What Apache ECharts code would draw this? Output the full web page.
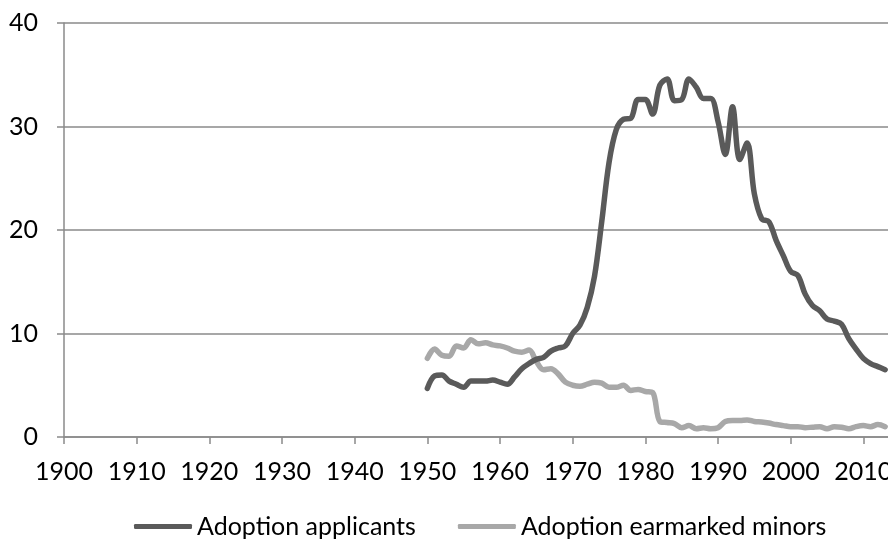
<!DOCTYPE html>
<html>
<head>
<meta charset="utf-8">
<script src="https://cdn.jsdelivr.net/npm/echarts@6/dist/echarts.min.js"></script>
<style>
    html, body { margin: 0; padding: 0; background: #fff; }
    #container { width: 888px; height: 540px; }
</style>
</head>
<body>
<div id="container"></div>
<script>
// years of the two series
var years = [];
for (var y = 1950; y <= 2013; y++) {
    years.push(y);
}

var applicants = [
    4.7, 5.9, 6.0, 5.4, 5.1, 4.8, 5.4, 5.4, 5.4, 5.5,
    5.3, 5.1, 5.8, 6.6, 7.1, 7.5, 7.7, 8.3, 8.6, 8.8,
    10.0, 10.8, 12.5, 15.5, 20.8, 26.5, 29.7, 30.7, 30.8, 32.6,
    32.6, 31.2, 34.0, 34.6, 32.5, 32.6, 34.6, 33.8, 32.7, 32.7,
    30.5, 27.3, 31.9, 26.8, 28.4, 23.5, 21.1, 20.8, 19.0, 17.5,
    16.0, 15.6, 13.8, 12.7, 12.2, 11.4, 11.2, 10.9, 9.5, 8.5,
    7.6, 7.1, 6.8, 6.5
];

var earmarkedMinors = [
    7.6, 8.5, 7.9, 7.8, 8.8, 8.6, 9.4, 9.0, 9.1, 8.9,
    8.8, 8.6, 8.3, 8.2, 8.4, 7.3, 6.5, 6.6, 6.1, 5.3,
    5.0, 4.9, 5.1, 5.3, 5.2, 4.8, 4.8, 5.0, 4.5, 4.6,
    4.4, 4.3, 1.5, 1.4, 1.3, 0.9, 1.1, 0.8, 0.9, 0.8,
    0.9, 1.5, 1.6, 1.6, 1.65, 1.5, 1.45, 1.35, 1.2, 1.1,
    1.0, 1.0, 0.9, 0.95, 1.0, 0.8, 1.0, 0.95, 0.8, 1.0,
    1.1, 1.0, 1.2, 1.0
];

var seriesNames = ['Adoption applicants', 'Adoption earmarked minors'];
var seriesColors = ['#5a5a5a', '#a8a8a8'];

function pairs(values) {
    return years.map(function(year, i) {
        return [year, values[i]];
    });
}

var fontFamily = 'Lato, "Liberation Sans", sans-serif';
var gridColor = '#8a8a8a';

var option = {
    animation: false,
    backgroundColor: '#ffffff',
    textStyle: { fontFamily: fontFamily },
    // the plot runs past the right edge of the picture (it is cut at ~2013)
    grid: {
        left: 64,
        top: 23,
        width: 872,
        height: 414,
        outerBoundsMode: 'none',
        containLabel: false
    },
    legend: {
        left: 134,
        top: 514,
        padding: 0,
        icon: 'roundRect',
        itemWidth: 58,
        itemHeight: 5,
        itemGap: 42,
        textStyle: { fontSize: 25, color: '#000', fontFamily: fontFamily },
        data: seriesNames
    },
    xAxis: {
        type: 'value',
        min: 1900,
        max: 2020,
        interval: 10,
        axisLine: { show: true, lineStyle: { color: gridColor, width: 1.5 } },
        axisTick: { show: true, length: 7, lineStyle: { color: gridColor, width: 1.5 } },
        splitLine: { show: false },
        axisLabel: {
            margin: 22,
            fontSize: 25,
            color: '#000',
            formatter: function(v) {
                return v >= 2020 ? '' : String(v);
            }
        }
    },
    yAxis: {
        type: 'value',
        min: 0,
        max: 40,
        interval: 10,
        axisLine: { show: true, lineStyle: { color: gridColor, width: 1.5 } },
        axisTick: { show: true, length: 7, lineStyle: { color: gridColor, width: 1.5 } },
        splitLine: { show: true, lineStyle: { color: gridColor, width: 1.5 } },
        axisLabel: { margin: 26, fontSize: 25, color: '#000' }
    },
    series: [{
        name: seriesNames[0],
        type: 'line',
        data: pairs(applicants),
        smooth: 0.35,
        symbol: 'none',
        color: seriesColors[0],
        lineStyle: { width: 5.5, color: seriesColors[0], cap: 'round', join: 'round' },
        z: 3
    }, {
        name: seriesNames[1],
        type: 'line',
        data: pairs(earmarkedMinors),
        smooth: 0.35,
        symbol: 'none',
        color: seriesColors[1],
        lineStyle: { width: 5.5, color: seriesColors[1], cap: 'round', join: 'round' },
        z: 2
    }]
};

function draw() {
    var myChart = echarts.init(document.getElementById('container'), null, { renderer: 'canvas' });
    myChart.setOption(option);
}

window.addEventListener('load', draw, false);
</script>
</body>
</html>
